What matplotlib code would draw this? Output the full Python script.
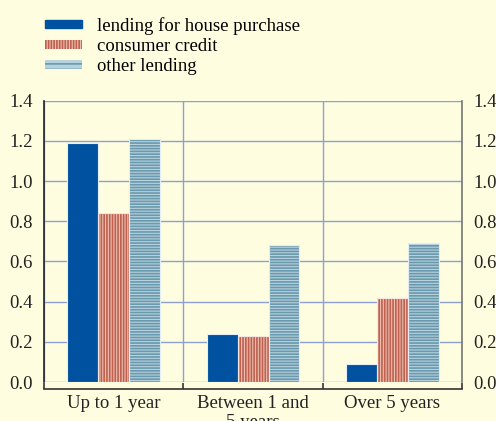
import numpy as np
import matplotlib
matplotlib.use('Agg')
import matplotlib.pyplot as plt
from matplotlib.patches import Patch

# data
categories = ['Up to 1 year', 'Between 1 and\n5 years', 'Over 5 years']
house = [1.19, 0.24, 0.09]
consumer = [0.84, 0.23, 0.42]
other = [1.21, 0.68, 0.69]
series_names = ['lending for house purchase', 'consumer credit', 'other lending']
yticks = [0.0, 0.2, 0.4, 0.6, 0.8, 1.0, 1.2, 1.4]

bg = '#fffde0'
grid_col = '#8e9fd6'
blue = '#0052a0'
red_face, red_hatch = '#ecc0b0', '#c0604f'
teal_face, teal_hatch = '#b6d2de', '#6a98ac'

plt.rcParams['font.family'] = ['Liberation Serif', 'DejaVu Serif']
plt.rcParams['hatch.linewidth'] = 1.2

fig = plt.figure(figsize=(4.96, 4.21), dpi=100, facecolor=bg)
ax = fig.add_axes([0.0887, 0.0926, 0.843, 0.668])
ax.set_facecolor(bg)

x = np.arange(len(categories))
w = 0.222

ax.bar(x - w, house, w, color=blue, edgecolor='#e8eef8', linewidth=0.8, zorder=3)
# hatched bars: face + hatch, then a light outline on top
ax.bar(x, consumer, w, color=red_face, edgecolor=red_hatch, hatch='|' * 6, linewidth=0, zorder=3)
ax.bar(x, consumer, w, fill=False, edgecolor='#f6e6e0', linewidth=0.8, zorder=4)
ax.bar(x + w, other, w, color=teal_face, edgecolor=teal_hatch, hatch='-' * 6, linewidth=0, zorder=3)
ax.bar(x + w, other, w, fill=False, edgecolor='#e4eef2', linewidth=0.8, zorder=4)

ax.set_xlim(-0.5, 2.5)
ax.set_ylim(0, 1.4)
ax.set_yticks(yticks)
ax.set_yticklabels([f'{v:.1f}' for v in yticks])
ax.tick_params(axis='y', length=0, labelsize=13.5, pad=8, labelright=True, right=False,
               colors='#222222')

# group boundaries as major ticks, labels on minor ticks
ax.set_xticks([-0.5, 0.5, 1.5, 2.5])
ax.set_xticklabels([])
ax.set_xticks(x, minor=True)
ax.set_xticklabels(categories, minor=True, linespacing=0.95)
ax.tick_params(axis='x', which='major', direction='in', length=4, width=1.2, color='#333333')
ax.tick_params(axis='x', which='minor', length=0, labelsize=13.5, pad=4, colors='#222222')

ax.grid(True, which='major', color=grid_col, linewidth=1.0, zorder=0)
ax.set_axisbelow(True)

ax.spines['top'].set_visible(False)
ax.spines['left'].set_color('#222222')
ax.spines['left'].set_linewidth(1.2)
ax.spines['right'].set_color('#777777')
ax.spines['right'].set_linewidth(1.2)
ax.spines['bottom'].set_position(('outward', 5))
ax.spines['bottom'].set_color('#333333')
ax.spines['bottom'].set_linewidth(1.2)

handles = [Patch(facecolor=blue, edgecolor=blue),
           Patch(facecolor=red_face, edgecolor=red_hatch, hatch='|' * 6, linewidth=0),
           Patch(facecolor=teal_face, edgecolor=teal_hatch, hatch='-' * 3, linewidth=0)]
fig.legend(handles, series_names, loc='upper left', bbox_to_anchor=(0.075, 0.978),
           frameon=False, fontsize=13.5, handlelength=2.0, handleheight=0.33,
           handletextpad=0.8, labelspacing=0.18, borderaxespad=0)

fig.savefig('out.png', dpi=100, facecolor=bg)
